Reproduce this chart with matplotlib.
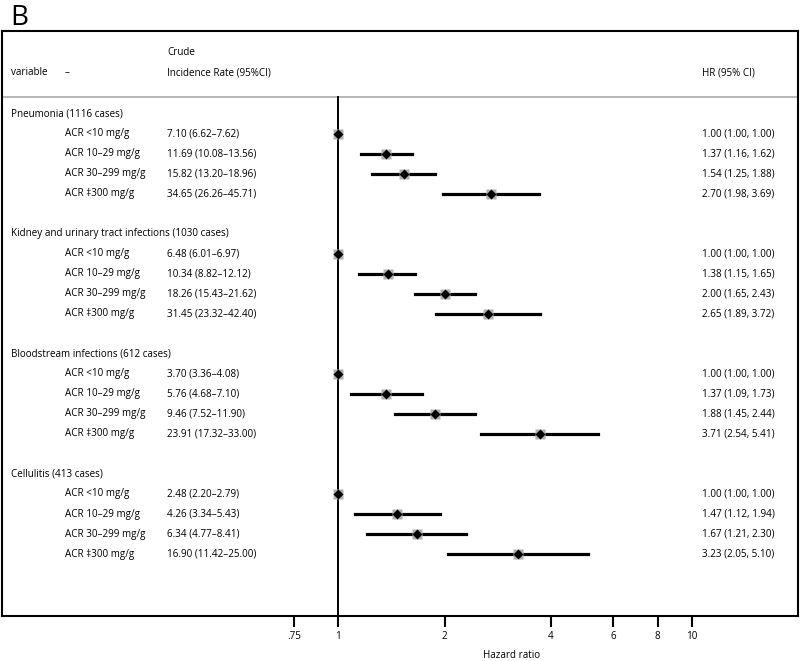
import matplotlib
matplotlib.use("Agg")
import matplotlib.pyplot as plt
import matplotlib.transforms as mtransforms
import numpy as np

plt.rcParams['font.family'] = ['Open Sans', 'DejaVu Sans']

groups = ["Pneumonia (1116 cases)", "Kidney and urinary tract infections (1030 cases)",
          "Bloodstream infections (612 cases)", "Cellulitis (413 cases)"]
levels = ["ACR <10 mg/g", "ACR 10\u201329 mg/g", "ACR 30\u2013299 mg/g", "ACR \u2021300 mg/g"]
ir_text = [
    ["7.10 (6.62\u20137.62)", "11.69 (10.08\u201313.56)", "15.82 (13.20\u201318.96)", "34.65 (26.26\u201345.71)"],
    ["6.48 (6.01\u20136.97)", "10.34 (8.82\u201312.12)", "18.26 (15.43\u201321.62)", "31.45 (23.32\u201342.40)"],
    ["3.70 (3.36\u20134.08)", "5.76 (4.68\u20137.10)", "9.46 (7.52\u201311.90)", "23.91 (17.32\u201333.00)"],
    ["2.48 (2.20\u20132.79)", "4.26 (3.34\u20135.43)", "6.34 (4.77\u20138.41)", "16.90 (11.42\u201325.00)"],
]
hr = [[1.00, 1.37, 1.54, 2.70], [1.00, 1.38, 2.00, 2.65],
      [1.00, 1.37, 1.88, 3.71], [1.00, 1.47, 1.67, 3.23]]
lo = [[1.00, 1.16, 1.25, 1.98], [1.00, 1.15, 1.65, 1.89],
      [1.00, 1.09, 1.45, 2.54], [1.00, 1.12, 1.21, 2.05]]
hi = [[1.00, 1.62, 1.88, 3.69], [1.00, 1.65, 2.43, 3.72],
      [1.00, 1.73, 2.44, 5.41], [1.00, 1.94, 2.30, 5.10]]
xticks = [0.75, 1, 2, 4, 6, 8, 10]
xticklabels = [".75", "1", "2", "4", "6", "8", "10"]

W, H = 800, 661
fig = plt.figure(figsize=(W / 100, H / 100), dpi=100)
left_px, right_px, top_px, bot_px = 2, 798, 31, 616
ax = fig.add_axes([left_px / W, 1 - bot_px / H, (right_px - left_px) / W, (bot_px - top_px) / H])

# x scale: 1 at px 338, 10 at px 692
px1, px10 = 338, 692
dec = px10 - px1
xmin = 10 ** ((left_px - px1) / dec)
xmax = 10 ** ((right_px - px1) / dec)
ax.set_xscale('log')
ax.set_xlim(xmin, xmax)
# y: row index, y_px = 114 + 20*idx
y0, dy = 114, 20
ax.set_ylim((bot_px - y0) / dy, (top_px - y0) / dy)

for s in ax.spines.values():
    s.set_linewidth(1.5)

fs = 7.1
ax.set_yticks([])
ax.set_xticks(xticks)
ax.set_xticklabels(xticklabels, fontsize=fs)
ax.xaxis.set_minor_locator(matplotlib.ticker.NullLocator())
ax.tick_params(axis='x', direction='out', length=8, width=1.5, pad=3)

trans = mtransforms.blended_transform_factory(ax.transAxes, ax.transData)
def xa(px):
    return (px - left_px) / (right_px - left_px)

# header
ax.text(xa(11), -2.05, "variable", transform=trans, fontsize=fs, va='center')
ax.text(xa(65), -2.05, "\u2013", transform=trans, fontsize=fs, va='center')
ax.text(xa(167), -3.05, "Crude", transform=trans, fontsize=fs, va='center')
ax.text(xa(167), -2.05, "Incidence Rate (95%CI)", transform=trans, fontsize=fs, va='center')
ax.text(xa(702), -2.05, "HR (95% CI)", transform=trans, fontsize=fs, va='center')
ax.axhline(-0.85, color='#aaaaaa', lw=1.2)

ax.plot([1, 1], [-0.85, (bot_px - y0) / dy], color='black', lw=1.4, zorder=2)

for g in range(4):
    base = g * 6
    ax.text(xa(11), base, groups[g], transform=trans, fontsize=fs, va='center')
    for k in range(4):
        y = base + 1 + k
        ax.text(xa(65), y, levels[k], transform=trans, fontsize=fs, va='center')
        ax.text(xa(167), y, ir_text[g][k], transform=trans, fontsize=fs, va='center')
        ax.text(xa(702), y, f"{hr[g][k]:.2f} ({lo[g][k]:.2f}, {hi[g][k]:.2f})",
                transform=trans, fontsize=fs, va='center')
        ax.plot([lo[g][k], hi[g][k]], [y, y], color='black', lw=2.3, zorder=3)
        ax.plot(hr[g][k], y, marker='s', ms=7, color='#b0b0b0', mec='none', zorder=4)
        ax.plot(hr[g][k], y, marker='D', ms=5, color='black', mec='none', zorder=5)

fig.text(512 / W, 1 - 656 / H, "Hazard ratio", fontsize=fs, ha='center', va='center')
fig.text(10 / W, 1 - 18 / H, "B", fontsize=20, va='center', ha='left')

fig.savefig("out.png", dpi=100)
